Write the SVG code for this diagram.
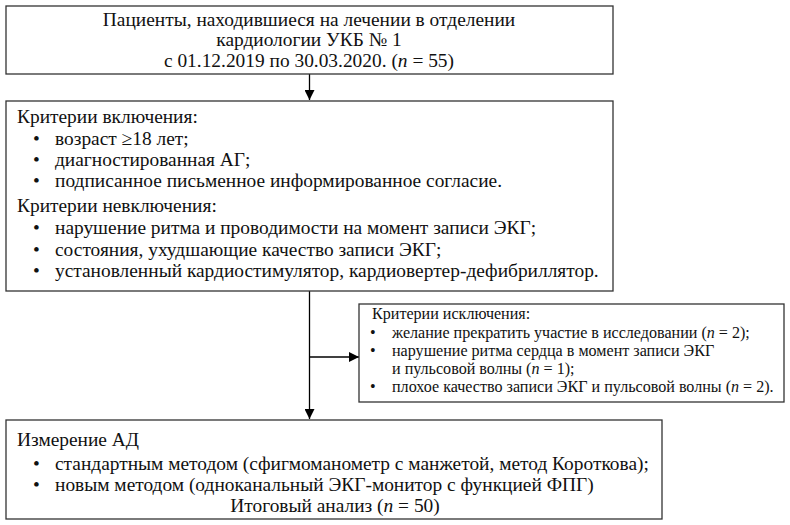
<svg xmlns="http://www.w3.org/2000/svg" width="790" height="525" viewBox="0 0 790 525">
<defs>
<style>
.box{fill:#fff;stroke:#333;stroke-width:1.3}
.t{font-family:"Liberation Serif","Times New Roman",serif;font-size:19.4px;fill:#111}
.s{font-family:"Liberation Serif","Times New Roman",serif;font-size:16.1px;fill:#111}
.c{text-anchor:middle}
.ln{stroke:#000;stroke-width:1.3;fill:none}
</style>
<marker id="ah" viewBox="0 0 10 10" refX="10" refY="5" markerWidth="10" markerHeight="10" markerUnits="userSpaceOnUse" orient="auto">
<path d="M0,0 L10,5 L0,10 Z" fill="#000"/>
</marker>
</defs>
<rect width="790" height="525" fill="#fff"/>
<g id="connectors">
<line class="ln" x1="309.5" y1="74" x2="309.5" y2="100" marker-end="url(#ah)"/>
<line class="ln" x1="309.5" y1="291" x2="309.5" y2="419" marker-end="url(#ah)"/>
<line class="ln" x1="309.5" y1="357" x2="359" y2="357" marker-end="url(#ah)"/>
</g>
<g id="node-patients">
<rect class="box" x="6" y="6" width="607" height="68"/>
<text class="t c" x="309" y="26">Пациенты, находившиеся на лечении в отделении</text>
<text class="t c" x="309" y="46">кардиологии УКБ № 1</text>
<text class="t c" x="309" y="67">с 01.12.2019 по 30.03.2020. (<tspan font-style="italic">n</tspan> = 55)</text>
</g>
<g id="node-criteria">
<rect class="box" x="6" y="101" width="607" height="190"/>
<text class="t" x="17" y="123">Критерии включения:</text>
<text class="t" x="33" y="145">•</text><text class="t" x="55" y="145">возраст ≥18 лет;</text>
<text class="t" x="33" y="166">•</text><text class="t" x="55" y="166">диагностированная АГ;</text>
<text class="t" x="33" y="187">•</text><text class="t" x="55" y="187">подписанное письменное информированное согласие.</text>
<text class="t" x="17" y="212">Критерии невключения:</text>
<text class="t" x="33" y="234">•</text><text class="t" x="55" y="234">нарушение ритма и проводимости на момент записи ЭКГ;</text>
<text class="t" x="33" y="256">•</text><text class="t" x="55" y="256">состояния, ухудшающие качество записи ЭКГ;</text>
<text class="t" x="33" y="277">•</text><text class="t" x="55" y="277">установленный кардиостимулятор, кардиовертер-дефибриллятор.</text>
</g>
<g id="node-exclusion">
<rect class="box" x="359" y="304" width="425" height="98"/>
<text class="s" x="372" y="319">Критерии исключения:</text>
<text class="s" x="370" y="338">•</text><text class="s" x="392" y="338">желание прекратить участие в исследовании (<tspan font-style="italic">n</tspan> = 2);</text>
<text class="s" x="370" y="356">•</text><text class="s" x="392" y="356">нарушение ритма сердца в момент записи ЭКГ</text>
<text class="s" x="392" y="374">и пульсовой волны (<tspan font-style="italic">n</tspan> = 1);</text>
<text class="s" x="370" y="392">•</text><text class="s" x="392" y="392">плохое качество записи ЭКГ и пульсовой волны (<tspan font-style="italic">n</tspan> = 2).</text>
</g>
<g id="node-measurement">
<rect class="box" x="6" y="420" width="656" height="99"/>
<text class="t" x="17" y="446">Измерение АД</text>
<text class="t" x="33" y="470">•</text><text class="t" x="55" y="470">стандартным методом (сфигмоманометр с манжетой, метод Короткова);</text>
<text class="t" x="33" y="491">•</text><text class="t" x="55" y="491">новым методом (одноканальный ЭКГ-монитор с функцией ФПГ)</text>
<text class="t c" x="335" y="512">Итоговый анализ (<tspan font-style="italic">n</tspan> = 50)</text>
</g>
</svg>
